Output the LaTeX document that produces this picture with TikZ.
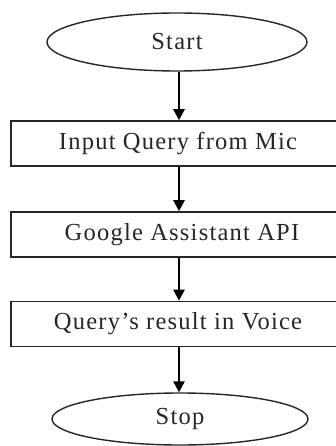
\documentclass[tikz,border=0pt]{standalone}
\usepackage{fontspec}
\setmainfont{Liberation Serif}[LetterSpace=5]
\usetikzlibrary{shapes.geometric,arrows.meta}
\begin{document}
\begin{tikzpicture}[x=1pt,y=-1pt,
  lbl/.style={font=\fontsize{24.5}{26}\selectfont, text=black!85},
  term/.style={ellipse, draw=black!85, line width=1.4pt, inner sep=0pt, lbl},
  procbox/.style={rectangle, draw=black!85, line width=1.6pt, inner sep=0pt,
    minimum width=400pt, minimum height=45pt},
  arr/.style={line width=2.4pt, -{Triangle[length=11pt,width=11pt]}}]
\useasboundingbox (0,0) rectangle (336,446);
\clip (0,0) rectangle (336,446);
\node[term, minimum width=260pt, minimum height=58pt] (start) at (177,42) {Start};
\node[procbox] (in) at (211,143.5) {};
\node[lbl] (inT) at (178,143.5) {Input Query from Mic};
\node[procbox] (api) at (211,234.5) {};
\node[lbl] (apiT) at (182,234.5) {Google Assistant API};
\node[procbox] (res) at (211,324) {};
\node[lbl] (resT) at (178,324) {Query's result in Voice};
\node[term, minimum width=256pt, minimum height=52pt] (stop) at (180,419) {Stop};
\coordinate (ax) at (179,0);
\draw[arr] (start.south -| ax) -- (in.north -| ax);
\draw[arr] (in.south -| ax) -- (api.north -| ax);
\draw[arr] (api.south -| ax) -- (res.north -| ax);
\draw[arr] (res.south -| ax) -- (stop.north -| ax);
\end{tikzpicture}
\end{document}
